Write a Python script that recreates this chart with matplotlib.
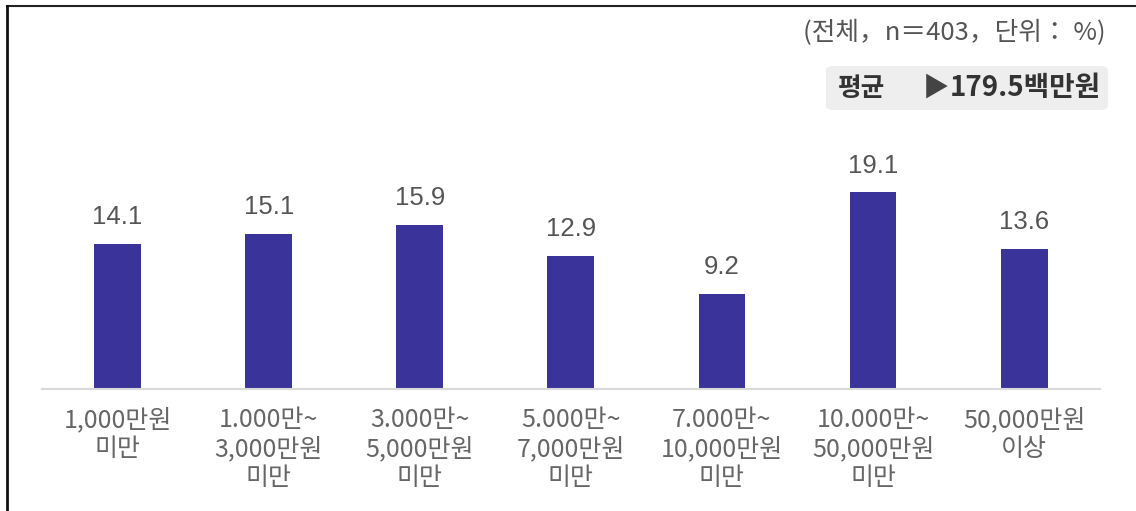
import matplotlib
matplotlib.use('Agg')
import matplotlib.pyplot as plt
from matplotlib.lines import Line2D
from matplotlib.patches import FancyBboxPatch

plt.rcParams['font.family'] = ['Noto Sans CJK KR', 'DejaVu Sans']

categories = ['1,000만원\n미만', '1.000만~\n3,000만원\n미만', '3.000만~\n5,000만원\n미만',
              '5.000만~\n7,000만원\n미만', '7.000만~\n10,000만원\n미만',
              '10.000만~\n50,000만원\n미만', '50,000만원\n이상']
values = [14.1, 15.1, 15.9, 12.9, 9.2, 19.1, 13.6]
note = '(전체，n＝403，단위： %)'
avg_label = '평균'
avg_value = '179.5백만원'

BAR_COLOR = '#3a3399'

fig = plt.figure(figsize=(11.36, 5.11), dpi=100)
ax = fig.add_axes([0.037, 0.2387, 0.931, 0.566])

x = range(len(values))
bars = ax.bar(x, values, width=0.31, color=BAR_COLOR, zorder=2)
for xi, v in zip(x, values):
    ax.text(xi, v + 1.45, '{:.1f}'.format(v), ha='center', va='bottom',
            fontsize=18.5, color='#555555', family=['Liberation Sans', 'DejaVu Sans'])

ax.set_xlim(-0.5, len(values) - 0.5)
ax.set_ylim(0, 28.1)
ax.set_yticks([])
ax.set_xticks(list(x))
ax.set_xticklabels(categories, fontsize=18, color='#666666', linespacing=1.15, va='top')
ax.tick_params(axis='x', length=0, pad=13)
for s in ['top', 'right', 'left']:
    ax.spines[s].set_visible(False)
ax.spines['bottom'].set_color('#d9d9d9')
ax.spines['bottom'].set_linewidth(1.5)

# note and average box
fig.text(1106 / 1136, 1 - 33 / 511, note, ha='right', va='center', fontsize=18.5, color='#555555')
box = FancyBboxPatch((826 / 1136, 1 - 110 / 511), 282 / 1136, 44 / 511,
                     boxstyle='round,pad=0,rounding_size=0.008', transform=fig.transFigure,
                     facecolor='#eeeeee', edgecolor='none')
fig.patches.append(box)
fig.text(838 / 1136, 1 - 88 / 511, avg_label, ha='left', va='center', fontsize=18.5,
         fontweight='bold', color='#333333')
fig.text(923 / 1136, 1 - 88 / 511, '▶', ha='left', va='center', fontsize=19, color='#444444')
fig.text(1101 / 1136, 1 - 88 / 511, avg_value, ha='right', va='center', fontsize=20,
         fontweight='bold', color='#333333')

# outer frame (top and left)
fig.add_artist(Line2D([7 / 1136, 1], [1 - 6 / 511, 1 - 6 / 511], transform=fig.transFigure,
                      color='#222222', linewidth=1.5))
fig.add_artist(Line2D([7 / 1136, 7 / 1136], [0, 1 - 6 / 511], transform=fig.transFigure,
                      color='#111111', linewidth=2))

fig.savefig('out.png', dpi=100)
